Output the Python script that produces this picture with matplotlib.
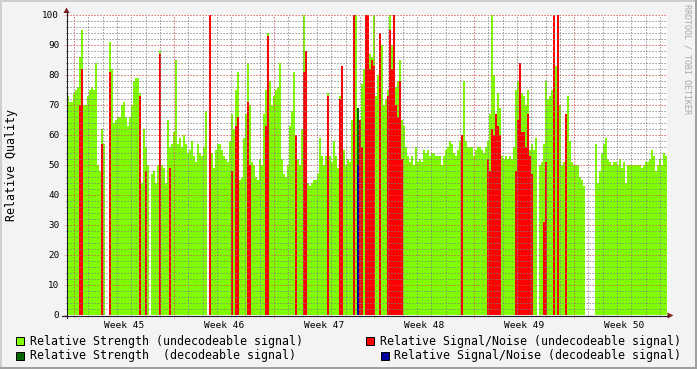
import numpy as np
import matplotlib
matplotlib.use("Agg")
import matplotlib.pyplot as plt
from matplotlib.ticker import MultipleLocator, FixedLocator
from matplotlib.patches import Rectangle, Polygon

plt.rcParams['font.family'] = ['DejaVu Sans Mono']

W, H = 697, 369

# Relative Strength (undecodeable) - one value per slot, 300 slots over 6 weeks
strength_undec = [
    73, 71, 71, 74, 75, 76, 86, 95, 70, 70,
    73, 75, 76, 75, 84, 50, 48, 62, 57, 0,
    0, 91, 82, 64, 65, 66, 66, 70, 71, 66,
    63, 66, 70, 78, 79, 79, 74, 44, 62, 56,
    50, 0, 47, 48, 44, 50, 88, 50, 49, 44,
    65, 56, 57, 61, 85, 57, 59, 56, 60, 57,
    54, 55, 58, 53, 51, 57, 54, 53, 56, 68,
    0, 0, 54, 49, 55, 57, 57, 55, 53, 52,
    51, 58, 67, 62, 75, 81, 45, 46, 59, 67,
    84, 70, 51, 50, 46, 45, 52, 50, 67, 75,
    94, 78, 70, 73, 75, 76, 84, 52, 47, 46,
    50, 63, 68, 81, 60, 52, 50, 62, 100, 82,
    44, 43, 44, 45, 45, 47, 59, 53, 50, 53,
    74, 53, 51, 58, 53, 49, 73, 83, 55, 50,
    52, 51, 65, 87, 100, 63, 63, 77, 82, 74,
    74, 87, 86, 100, 73, 80, 80, 90, 70, 72,
    75, 100, 90, 76, 76, 78, 85, 65, 63, 56,
    53, 51, 53, 50, 56, 51, 52, 51, 55, 54,
    55, 53, 54, 54, 53, 53, 53, 50, 53, 55,
    56, 58, 57, 54, 53, 55, 58, 60, 78, 58,
    56, 56, 56, 53, 55, 56, 56, 55, 54, 56,
    58, 67, 100, 80, 67, 74, 69, 53, 52, 53,
    52, 53, 52, 56, 75, 78, 84, 74, 73, 70,
    75, 55, 57, 55, 59, 0, 50, 51, 57, 78,
    72, 73, 75, 73, 83, 66, 70, 50, 51, 45,
    73, 58, 51, 50, 50, 50, 46, 45, 43, 0,
    0, 0, 0, 0, 57, 44, 48, 54, 57, 59,
    52, 51, 50, 51, 51, 50, 52, 49, 51, 44,
    50, 50, 50, 50, 50, 50, 50, 49, 50, 51,
    51, 52, 55, 53, 48, 50, 52, 50, 54, 53,
]

# Relative Signal/Noise (undecodeable) - sparse slots
snr_slot = [6, 7, 17, 21, 36, 39, 46, 51, 71,
            82, 84, 85, 90, 91, 99, 100, 114, 118, 119, 130, 136, 137, 143, 146, 147,
            149, 150, 151, 152, 153, 156, 160, 161, 162, 163, 164, 165, 166, 167,
            197, 210, 211, 212, 213, 214, 215, 216,
            224, 225, 226, 227, 228, 229, 230, 231, 232, 238, 239, 243, 245, 249]
snr_val = [70, 82, 57, 81, 73, 48, 87, 49, 100,
           48, 63, 66, 71, 50, 63, 93, 60, 81, 88, 73, 72, 83, 100, 65, 56,
           100, 100, 82, 85, 83, 94, 73, 95, 82, 100, 70, 66, 78, 52,
           60, 52, 48, 62, 60, 67, 63, 60,
           48, 65, 84, 61, 61, 56, 67, 53, 47, 31, 51, 100, 100, 67]

# decodeable signal
strength_dec_slot = [145]
strength_dec_val = [69]
snr_dec_slot = [145]
snr_dec_val = [50]

week_labels = ["Week 45", "Week 46", "Week 47", "Week 48", "Week 49", "Week 50"]
n_days = 42
first_monday = 0.53  # days after graph start

c_green = '#80FF00'
c_dgreen = '#006600'
c_red = '#FF0000'
c_blue = '#00009F'
c_grid = (0.5, 0.5, 0.5, 0.4)
c_mgrid = (0.85, 0.3, 0.3, 0.4)
c_arrow = (0.5, 0.12, 0.12)
c_axis = (0.12, 0.12, 0.12)

fig = plt.figure(figsize=(W / 100, H / 100), dpi=100, facecolor='#F3F3F3')

ax = fig.add_axes([66.5 / W, (H - 315) / H, 600 / W, 300 / H])
ax.set_facecolor('white')
slot = n_days / len(strength_undec)
edges = np.arange(len(strength_undec) + 1) * slot
ax.stairs(strength_undec, edges, fill=True, color=c_green, baseline=0, lw=0)
ax.bar(np.array(strength_dec_slot) * slot, strength_dec_val, width=slot, align='edge',
       color=c_dgreen, lw=0)
ax.bar(np.array(snr_slot) * slot, snr_val, width=slot, align='edge', color=c_red, lw=0)
ax.bar(np.array(snr_dec_slot) * slot, snr_dec_val, width=slot, align='edge',
       color=c_blue, lw=0)
ax.set_xlim(0, n_days)
ax.set_ylim(0, 100)

# grid (drawn over the data, dotted, like rrdtool)
week_starts = [first_monday + 7 * k for k in range(6)]
days = [first_monday + k for k in range(-1, 42) if 0 < first_monday + k < n_days]
ax.xaxis.set_major_locator(FixedLocator(week_starts))
ax.xaxis.set_minor_locator(FixedLocator(days))
ax.yaxis.set_major_locator(MultipleLocator(10))
ax.yaxis.set_minor_locator(MultipleLocator(2))
ax.set_axisbelow(False)
ax.grid(which='minor', color=c_grid, lw=0.72, ls=(0, (1.2, 1.8)))
ax.grid(which='major', color=c_mgrid, lw=0.72, ls=(0, (1.2, 1.8)))
ax.tick_params(axis='x', which='both', labelbottom=False)
ax.tick_params(axis='x', which='major', length=2.5, color=c_mgrid, width=0.72)
ax.tick_params(axis='x', which='minor', length=1.5, color=c_grid, width=0.72)
ax.tick_params(axis='y', which='major', length=2.5, color=c_mgrid, width=0.72,
               labelsize=6.7, pad=2.7)
ax.tick_params(axis='y', which='minor', length=1.5, color=c_grid, width=0.72)
for s in ax.spines.values():
    s.set_visible(False)

for k, lab in enumerate(week_labels):
    ax.text(first_monday + 3.5 + 7 * k, -10 / 300, lab, transform=ax.get_xaxis_transform(),
            ha='center', va='center', fontsize=6.8)

# overlay in pixel coords: axes lines, arrows, frame, legend
ov = fig.add_axes([0, 0, 1, 1], zorder=10)
ov.set_xlim(0, W)
ov.set_ylim(H, 0)
ov.axis('off')
ov.patch.set_visible(False)

ov.plot([66.5, 66.5], [318, 12], color=c_axis, lw=0.8)
ov.plot([62, 668], [315.5, 315.5], color=c_axis, lw=0.8)
ov.add_patch(Polygon([[63.5, 13], [69.5, 13], [66.5, 7.5]], closed=True, color=c_arrow, lw=0))
ov.add_patch(Polygon([[667.5, 312.5], [667.5, 318.5], [673.5, 315.5]], closed=True,
                     color=c_arrow, lw=0))

ov.plot([0, W], [0.7, 0.7], color='#CFCFCF', lw=1.4)
ov.plot([0.7, 0.7], [0, H], color='#CFCFCF', lw=1.4)
ov.plot([0, W], [H - 0.7, H - 0.7], color='#9E9E9E', lw=1.4)
ov.plot([W - 0.7, W - 0.7], [0, H], color='#9E9E9E', lw=1.4)

ov.text(12, 165, "Relative Quality", rotation=90, ha='center', va='center', fontsize=8.4)
ov.text(687, 4, "RRDTOOL / TOBI OETIKER", rotation=-90, ha='center', va='top',
        fontsize=6, color='#A8A8A8')

legend = [
    (16, 341, c_green, "Relative Strength (undecodeable signal)"),
    (365.5, 341, c_red, "Relative Signal/Noise (undecodeable signal)"),
    (16, 355.5, c_dgreen, "Relative Strength  (decodeable signal)"),
    (380.5, 355.5, c_blue, "Relative Signal/Noise (decodeable signal)"),
]
for x0, yc, col, lab in legend:
    ov.add_patch(Rectangle((x0, yc - 4), 8, 8, facecolor=col, edgecolor='black', lw=0.72))
    ov.text(x0 + 14, yc, lab, ha='left', va='center', fontsize=8.35)

fig.savefig("out.png", dpi=100, facecolor=fig.get_facecolor())
